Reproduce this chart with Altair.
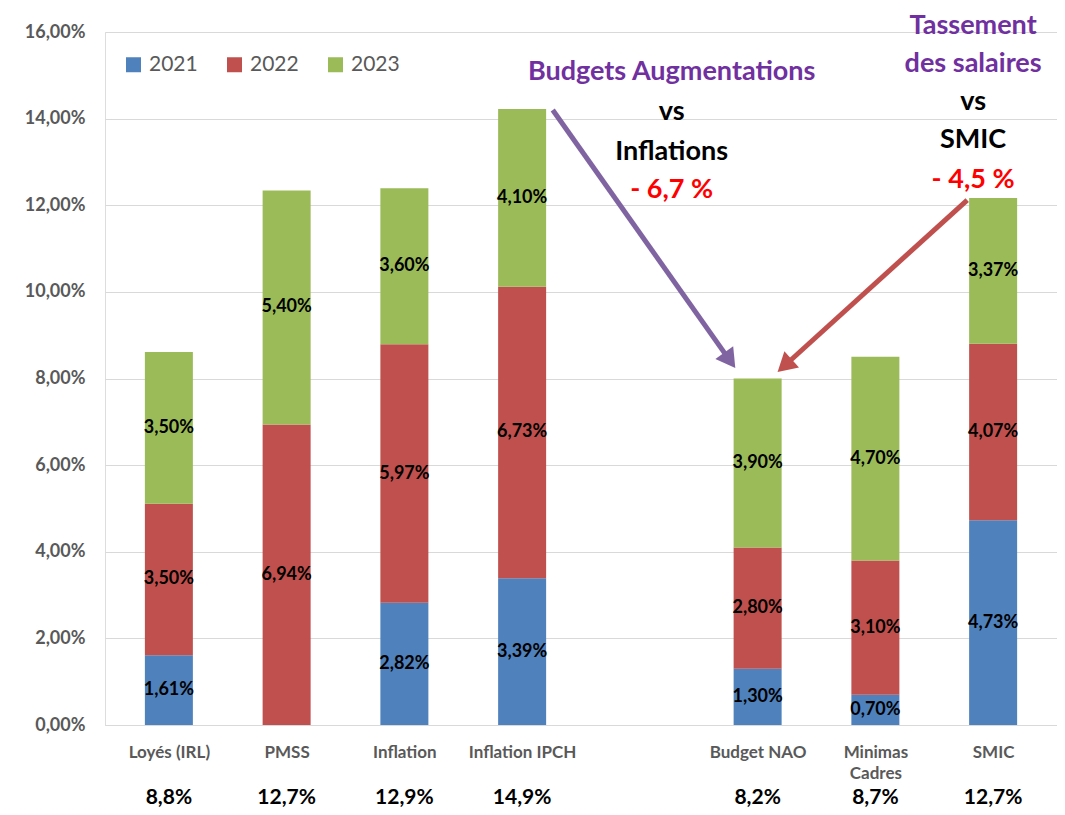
import math
import json
import altair as alt
import pandas as pd

# ---------------- data ----------------
categories = ["Loyés (IRL)", "PMSS", "Inflation", "Inflation IPCH", "",
              "Budget NAO", "Minimas Cadres", "SMIC"]
bar_categories = ["Loyés (IRL)", "PMSS", "Inflation", "Inflation IPCH",
                  "Budget NAO", "Minimas Cadres", "SMIC"]
years = ["2021", "2022", "2023"]
v2021 = [1.61, 0.00, 2.82, 3.39, 1.30, 0.70, 4.73]
v2022 = [3.50, 6.94, 5.97, 6.73, 2.80, 3.10, 4.07]
v2023 = [3.50, 5.40, 3.60, 4.10, 3.90, 4.70, 3.37]
totals = ["8,8%", "12,7%", "12,9%", "14,9%", "8,2%", "8,7%", "12,7%"]
year_colors = ["#4F81BD", "#C0504D", "#9BBB59"]

# annotations (x in category-slot units 0..8, y in % units)
ann_text = ["Budgets Augmentations", "vs", "Inflations", "- 6,7 %",
            "Tassement", "des salaires", "vs", "SMIC", "- 4,5 %"]
ann_x = [4.77, 4.77, 4.77, 4.77, 7.33, 7.33, 7.33, 7.33, 7.33]
ann_y = [14.89, 13.97, 13.05, 12.17, 15.95, 15.08, 14.20, 13.32, 12.40]
ann_color = ["#7030A0", "#000000", "#000000", "#FF0000",
             "#7030A0", "#7030A0", "#000000", "#000000", "#FF0000"]

arrow_x0 = [3.76, 7.28]
arrow_y0 = [14.20, 12.12]
arrow_x1 = [5.31, 5.67]
arrow_y1 = [8.24, 8.15]
arrow_color = ["#8064A2", "#C0504D"]

# ---------------- layout ----------------
W, H = 952, 693
FONT = "Lato"
ppx = W / 8.0
ppy = H / 16.0

# ---------------- tables ----------------
rows = []
series = [v2021, v2022, v2023]
for i, cat in enumerate(bar_categories):
    pos = categories.index(cat) + 0.5
    base = 0.0
    for k, yr in enumerate(years):
        v = series[k][i]
        rows.append({"cat": cat, "pos": pos, "year": yr, "start": base,
                     "end": base + v, "mid": base + v / 2.0, "val": v,
                     "label": f"{v:.2f}".replace(".", ",") + "%"})
        base += v
df = pd.DataFrame(rows)
df_bars = df[df["val"] > 0]
df_tot = pd.DataFrame({"pos": [categories.index(c) + 0.5 for c in bar_categories],
                       "total": totals})
df_ann = pd.DataFrame({"t": ann_text, "sx": ann_x, "sy": ann_y, "c": ann_color})

arr = []
for x0, y0, x1, y1, c in zip(arrow_x0, arrow_y0, arrow_x1, arrow_y1, arrow_color):
    dx = (x1 - x0) * ppx
    dy = -(y1 - y0) * ppy
    L = math.hypot(dx, dy)
    ux, uy = dx / L, dy / L
    hb, le = 9.5, 12.0
    arr.append({"x0": x0, "y0": y0,
                "xe": x1 - ux * le / ppx, "ye": y1 + uy * le / ppy,
                "hx": x1 - ux * hb / ppx, "hy": y1 + uy * hb / ppy,
                "ang": math.degrees(math.atan2(ux, -uy)) % 360, "c": c})
df_arr = pd.DataFrame(arr)

# axis label lookup (multi-line for "Minimas Cadres")
label_items = [c.split(" ") if c == "Minimas Cadres" else c for c in categories]
label_expr = json.dumps(label_items, ensure_ascii=False) + "[floor(datum.value)]"

# ---------------- scales ----------------
xq = alt.Scale(domain=[0, 8], nice=False, zero=False)
yscale = alt.Scale(domain=[0, 16], nice=False, zero=True)

xaxis = alt.Axis(
    title=None, values=[categories.index(c) + 0.5 for c in bar_categories],
    labelAngle=0, ticks=False, domain=True, domainColor="#D9D9D9", grid=False,
    labelFont=FONT, labelFontWeight="bold", labelFontSize=17,
    labelColor="#595959", labelPadding=19, labelLineHeight=21,
    labelExpr=label_expr)
yaxis = alt.Axis(
    title=None, values=list(range(0, 17, 2)), domain=False, ticks=False,
    grid=True, gridColor="#D9D9D9", gridWidth=1,
    labelFont=FONT, labelFontWeight="bold", labelFontSize=18,
    labelColor="#595959", labelPadding=20,
    labelExpr="replace(format(datum.value/100, '.2%'), '.', ',')")

bars = alt.Chart(df_bars).mark_bar(size=48).encode(
    x=alt.X("pos:Q", scale=xq, axis=xaxis),
    y=alt.Y("start:Q", scale=yscale, axis=yaxis),
    y2="end:Q",
    color=alt.Color("year:N", scale=alt.Scale(domain=years, range=year_colors),
                    legend=alt.Legend(
                        title=None, orient="none", legendX=18, legendY=22,
                        direction="horizontal", symbolType="square",
                        symbolSize=225, symbolStrokeWidth=0,
                        labelFont=FONT, labelFontSize=21, labelColor="#595959",
                        labelOffset=5, columnPadding=26, padding=0)),
)

labels = alt.Chart(df_bars).mark_text(
    font=FONT, fontWeight="bold", fontSize=18, color="black", baseline="middle"
).encode(
    x=alt.X("pos:Q", scale=xq),
    y=alt.Y("mid:Q", scale=yscale),
    text="label:N",
)

tot = alt.Chart(df_tot).mark_text(
    font=FONT, fontWeight="bold", fontSize=21, color="black", baseline="alphabetic"
).encode(
    x=alt.X("pos:Q", scale=xq),
    y=alt.value(H + 79),
    text="total:N",
)

lines = alt.Chart(df_arr).mark_rule(strokeWidth=5).encode(
    x=alt.X("x0:Q", scale=xq), x2="xe:Q",
    y=alt.Y("y0:Q", scale=yscale), y2="ye:Q",
    color=alt.Color("c:N", scale=None),
)

heads = alt.Chart(df_arr).mark_point(
    shape="triangle-up", filled=True, size=480, opacity=1, strokeWidth=0
).encode(
    x=alt.X("hx:Q", scale=xq),
    y=alt.Y("hy:Q", scale=yscale),
    angle=alt.Angle("ang:Q", scale=None),
    color=alt.Color("c:N", scale=None),
)

ann = alt.Chart(df_ann).mark_text(
    font=FONT, fontWeight="bold", fontSize=27, baseline="alphabetic", align="center"
).encode(
    x=alt.X("sx:Q", scale=xq),
    y=alt.Y("sy:Q", scale=yscale),
    text="t:N",
    color=alt.Color("c:N", scale=None),
)

chart = alt.layer(bars, labels, tot, lines, heads, ann).properties(
    width=W, height=H,
    autosize=alt.AutoSizeParams(type="none"),
    padding={"left": 97, "top": 24, "right": 0, "bottom": 82},
).configure_view(stroke=None).configure(background="white")

chart.save("out.html", embed_options={"renderer": "svg", "actions": False})
